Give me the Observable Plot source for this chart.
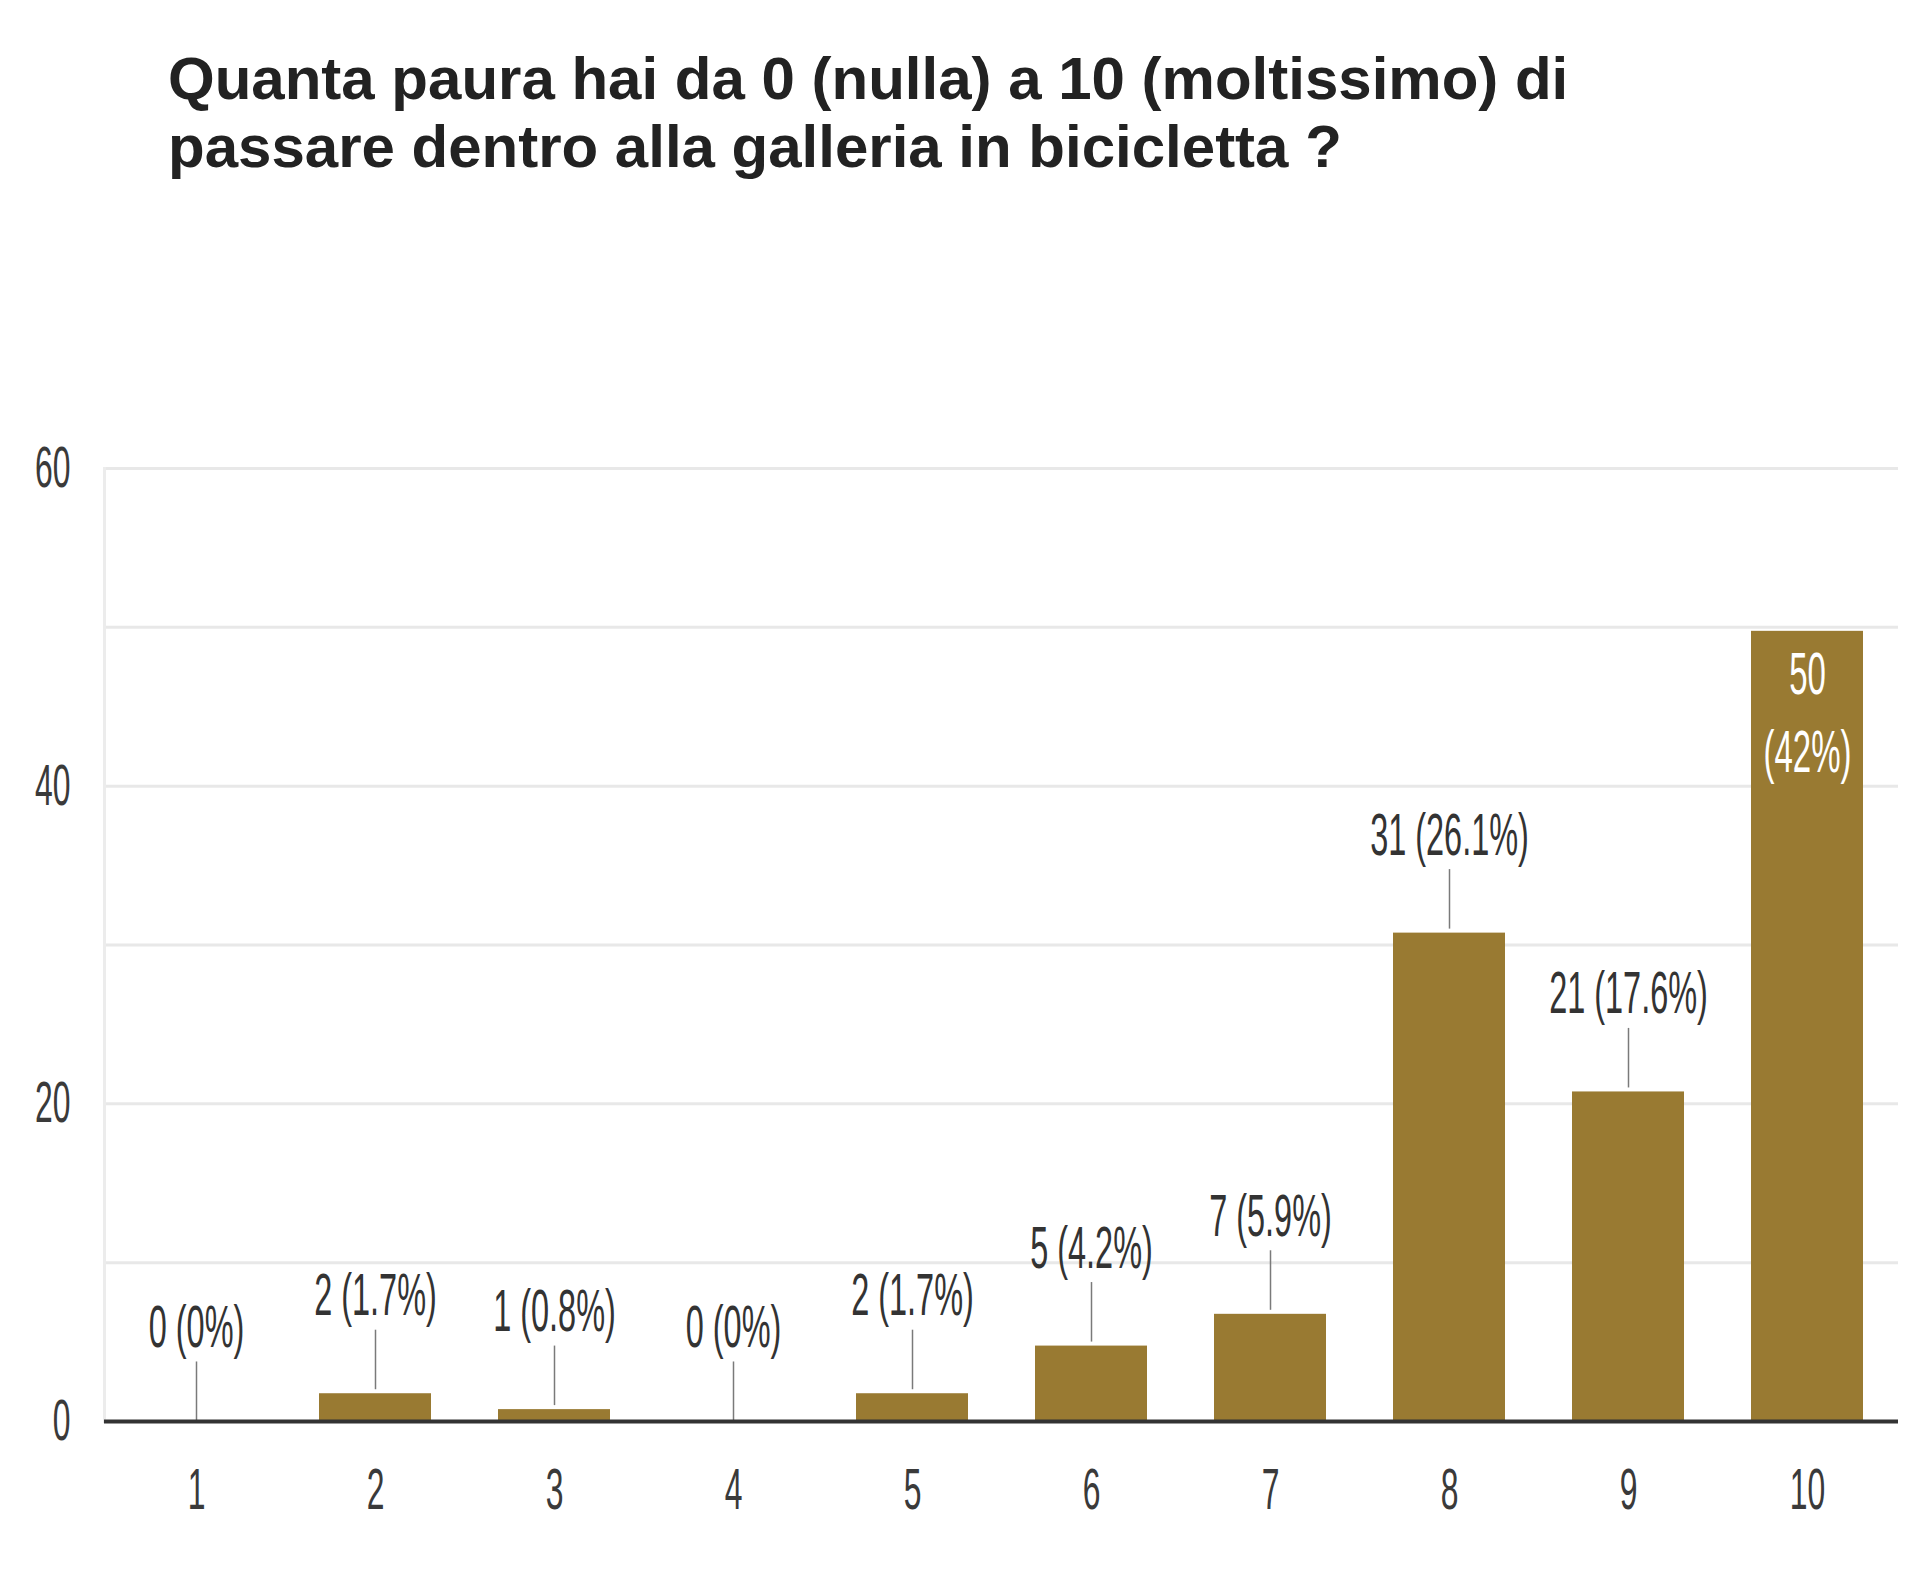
<!DOCTYPE html>
<html><head><meta charset="utf-8">
<script src="https://cdn.jsdelivr.net/npm/d3@7"></script>
<script src="https://cdn.jsdelivr.net/npm/@observablehq/plot@0.6"></script>
<style>
html,body{margin:0;padding:0;background:#fff;}
#title{height:200px;box-sizing:border-box;padding:45px 0 0 168px;font:bold 60px "Liberation Sans",Arial,sans-serif;line-height:68px;color:#222;white-space:nowrap;overflow:hidden}
#title span{display:inline-block}
#chart svg{display:block}
</style></head><body>
<div id="title"><span>Quanta paura hai da 0 (nulla) a 10 (moltissimo) di<br>passare dentro alla galleria in bicicletta ?</span></div>
<div id="chart"></div>
<script>
const categories = ["1","2","3","4","5","6","7","8","9","10"];
const counts = [0, 2, 1, 0, 2, 5, 7, 31, 21, 50];
const percents = ["0%","1.7%","0.8%","0%","1.7%","4.2%","5.9%","26.1%","17.6%","42%"];
const insideCategories = ["10"];
const yTicks = [0, 20, 40, 60];
const gridTicks = [10, 20, 30, 40, 50, 60];

const data = categories.map((c, i) => ({cat: c, count: counts[i], pct: percents[i]}));
const outside = data.filter(d => !insideCategories.includes(d.cat));
const inside = data.filter(d => insideCategories.includes(d.cat));
const leader = 4;

const chart = Plot.plot({
  width: 1920, height: 1376,
  marginTop: 268, marginBottom: 155, marginLeft: 104, marginRight: 22,
  style: {fontFamily: '"Liberation Sans", Arial, sans-serif', fontSize: "58px", color: "#3a3a3a", background: "#fff"},
  x: {domain: categories, paddingInner: 0.376, paddingOuter: 0.188, label: null},
  y: {domain: [0, 60], label: null},
  marks: [
    Plot.gridY(gridTicks, {stroke: "#e8e8e8", strokeOpacity: 1, strokeWidth: 3}),
    Plot.frame({anchor: "left", stroke: "#ececec", strokeOpacity: 1, strokeWidth: 3}),
    Plot.barY(data, {x: "cat", y: "count", fill: "#997a32", insetTop: 4}),
    Plot.ruleX(outside, {x: "cat", y1: "count", y2: d => d.count + leader, stroke: "#7a7a7a", strokeWidth: 1.5, insetBottom: -4}),
    Plot.text(outside, {x: "cat", y: d => d.count + leader, text: d => `${d.count} (${d.pct})`, lineAnchor: "bottom", dy: -11, fill: "#333", fontSize: 59}),
    Plot.text(inside, {x: "cat", y: "count", text: d => `${d.count}\n(${d.pct})`, lineAnchor: "top", dy: 11, lineHeight: 1.3, fill: "#fff", fontSize: 60}),
    Plot.ruleY([0], {stroke: "#333", strokeWidth: 4}),
    Plot.axisY({ticks: yTicks, tickSize: 0, tickPadding: 34, fontSize: 58, label: null}),
    Plot.axisX({tickSize: 0, tickPadding: 46, fontSize: 58, label: null})
  ]
});
d3.select(chart).selectAll("text").each(function() {
  const t = this.getAttribute("transform") || "";
  this.setAttribute("transform", t + " scale(0.55,1)");
});
document.getElementById("chart").appendChild(chart);
</script></body></html>
